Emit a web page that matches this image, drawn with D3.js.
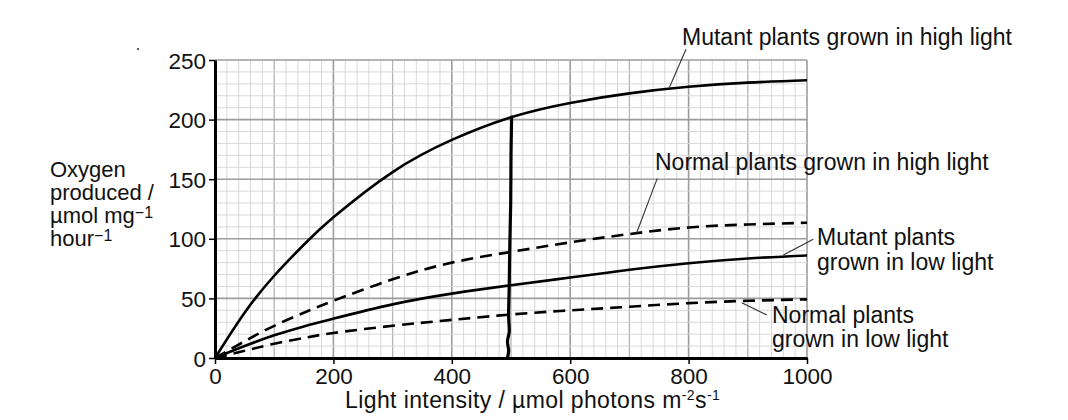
<!DOCTYPE html>
<html>
<head>
<meta charset="utf-8">
<script src="https://cdn.jsdelivr.net/npm/d3@7"></script>
<style>
  html, body { margin: 0; padding: 0; background: #fff; }
  svg { display: block; }
  text { font-family: "Liberation Sans", Arial, sans-serif; fill: #111; }
</style>
</head>
<body>
<svg id="chart" width="1068" height="420"></svg>
<script>
// ---- data ----
const lightIntensity = [0, 50, 100, 150, 200, 300, 400, 500, 600, 700, 800, 900, 1000];
const mutantHigh  = [0, 38, 69, 95, 118, 156, 183, 202, 214, 222, 227.5, 231, 233];
const normalHigh  = [0, 14, 27, 38, 48, 66, 80, 89, 97, 104, 109.5, 112, 113.5];
const mutantLow   = [0, 10, 19, 26.5, 33, 45, 54, 61, 67.5, 74, 79.5, 83.5, 86];
const normalLow   = [0, 6, 12, 16.8, 21, 27, 32, 36.5, 40, 43, 46, 48, 49.2];
const seriesNames = ["Mutant plants grown in high light", "Normal plants grown in high light",
                     "Mutant plants grown in low light", "Normal plants grown in low light"];
const xTicks = [0, 200, 400, 600, 800, 1000];
const yTicks = [0, 50, 100, 150, 200, 250];
// hand-drawn vertical line near 500
const handLineX = [501, 500, 499.5, 498, 497, 496, 497, 494, 496, 494];
const handLineY = [202, 170, 130, 95, 60, 35, 22, 14, 6, 0];

// ---- scales ----
const x = d3.scaleLinear().domain([0, 1000]).range([215, 807]);
const y = d3.scaleLinear().domain([0, 250]).range([358, 60]);
const svg = d3.select("#chart");

// ---- grid ----
const grid = svg.append("g");
d3.range(0, 1001, 20).forEach(v => {
  const major = v % 200 === 0, mid = v % 100 === 0;
  grid.append("line").attr("x1", x(v)).attr("x2", x(v)).attr("y1", y(0)).attr("y2", y(250))
    .attr("stroke", major ? "#9c9c9c" : mid ? "#b4b4b4" : "#d8d8d8")
    .attr("stroke-width", major ? 1.6 : mid ? 1.3 : 1);
});
d3.range(0, 251, 10).forEach(v => {
  const major = v % 50 === 0;
  grid.append("line").attr("y1", y(v)).attr("y2", y(v)).attr("x1", x(0)).attr("x2", x(1000))
    .attr("stroke", major ? "#9c9c9c" : "#d8d8d8")
    .attr("stroke-width", major ? 1.6 : 1);
});

// ---- axes ----
const xAxis = d3.axisBottom(x).tickValues(xTicks).tickFormat(d3.format("d"))
  .tickSize(6).tickPadding(4).tickSizeOuter(0);
const yAxis = d3.axisLeft(y).tickValues(yTicks).tickFormat(d3.format("d"))
  .tickSize(6).tickPadding(3).tickSizeOuter(0);
const gx = svg.append("g").attr("transform", `translate(0,${y(0)})`).call(xAxis);
const gy = svg.append("g").attr("transform", `translate(${x(0)},0)`).call(yAxis);
[gx, gy].forEach(g => {
  g.select(".domain").attr("stroke", "#000").attr("stroke-width", 3);
  g.selectAll(".tick line").attr("stroke", "#000").attr("stroke-width", 1.5);
  g.selectAll(".tick text").style("font-family", "Liberation Sans, Arial, sans-serif")
    .style("font-size", "22.5px").attr("fill", "#111");
});
gy.selectAll(".tick text").attr("dy", "0.36em");

// ---- curves ----
const line = d3.line().x(d => x(d[0])).y(d => y(d[1])).curve(d3.curveNatural);
const series = [
  { vals: mutantHigh, dash: null },
  { vals: normalHigh, dash: "12,7" },
  { vals: mutantLow,  dash: null },
  { vals: normalLow,  dash: "12,7" }
];
series.forEach((s, i) => {
  svg.append("path")
    .datum(lightIntensity.map((v, j) => [v, s.vals[j]]))
    .attr("class", "series").attr("data-name", seriesNames[i])
    .attr("d", line).attr("fill", "none").attr("stroke", "#000")
    .attr("stroke-width", 2.6).attr("stroke-dasharray", s.dash);
});

// hand-drawn line
svg.append("path")
  .datum(handLineX.map((v, j) => [v, handLineY[j]]))
  .attr("d", d3.line().x(d => x(d[0])).y(d => y(d[1])).curve(d3.curveCatmullRom))
  .attr("fill", "none").attr("stroke", "#000").attr("stroke-width", 3.2).attr("stroke-linecap", "round");

// ---- annotations (leader lines in data units, labels in pixels) ----
const leaders = [
  [[767, 226.3], [795.6, 259]],
  [[712, 104.6], [747, 150.7]],
  [[960, 86.4], [1010.6, 99.6]],
  [[889.7, 46.4], [931.9, 36.1]]
];
leaders.forEach(l => {
  svg.append("line").attr("x1", x(l[0][0])).attr("y1", y(l[0][1]))
    .attr("x2", x(l[1][0])).attr("y2", y(l[1][1]))
    .attr("stroke", "#333").attr("stroke-width", 1.1);
});
const labelPos = [
  { x: 682, y: [45], lines: ["Mutant plants grown in high light"] },
  { x: 655, y: [170], lines: ["Normal plants grown in high light"] },
  { x: 817, y: [245, 270], lines: ["Mutant plants", "grown in low light"] },
  { x: 772, y: [323, 347], lines: ["Normal plants", "grown in low light"] }
];
labelPos.forEach(lp => {
  lp.lines.forEach((t, k) => {
    svg.append("text").attr("x", lp.x).attr("y", lp.y[k]).style("font-size", "23px").text(t);
  });
});

// ---- axis titles ----
const xt = svg.append("text").attr("x", 345).attr("y", 408)
  .style("font-size", "23px").style("letter-spacing", "0.4px");
xt.append("tspan").text("Light intensity / µmol photons m");
xt.append("tspan").attr("dy", -8).style("font-size", "14px").text("-2");
xt.append("tspan").attr("dy", 8).text("s");
xt.append("tspan").attr("dy", -8).style("font-size", "14px").text("-1");

const yl = [
  [["Oxygen", null]],
  [["produced /", null]],
  [["µmol mg", null], ["−1", "sup"]],
  [["hour", null], ["−1", "sup"]]
];
yl.forEach((parts, k) => {
  const t = svg.append("text").attr("x", 50).attr("y", 177 + k * 23).style("font-size", "22px");
  parts.forEach(p => {
    if (p[1] === "sup") {
      t.append("tspan").attr("dy", -5).style("font-size", "16px").text(p[0]);
    } else {
      t.append("tspan").text(p[0]);
    }
  });
});

// stray dot in the scan
svg.append("circle").attr("cx", 138).attr("cy", 49).attr("r", 1.1).attr("fill", "#333");
</script>
</body>
</html>
